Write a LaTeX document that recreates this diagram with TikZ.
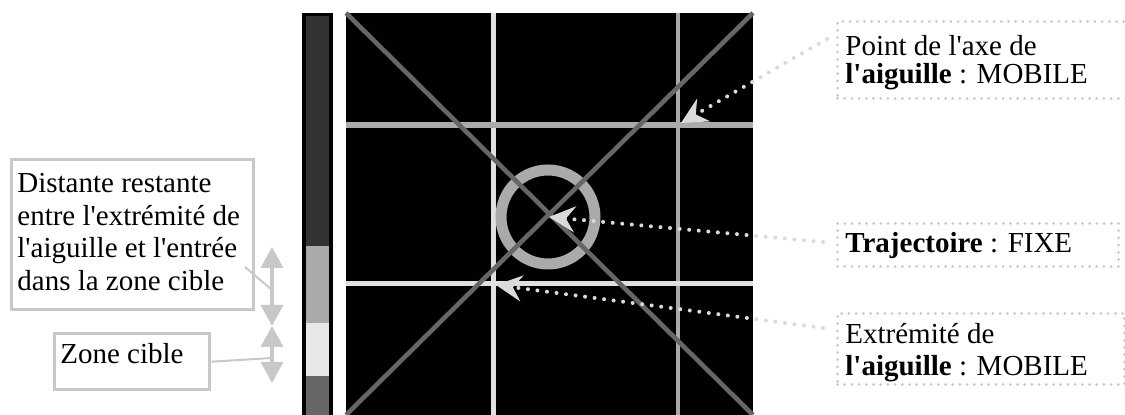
\documentclass[tikz,border=0pt]{standalone}
\usepackage{fontspec}
\newfontfamily\labelfont{Liberation Serif}
\definecolor{bardark}{RGB}{51, 51, 51}
\definecolor{barmid}{RGB}{170, 170, 170}
\definecolor{barlight}{RGB}{232, 232, 232}
\definecolor{barlow}{RGB}{102, 102, 102}
\definecolor{gridlight}{RGB}{224, 224, 224}
\definecolor{diag}{RGB}{102, 102, 102}
\definecolor{framegray}{RGB}{200, 200, 200}
\definecolor{pointergray}{RGB}{218, 218, 218}
\usetikzlibrary{arrows.meta, positioning}

\begin{document}
\begin{tikzpicture}[x=0.5pt, y=-0.5pt,
    legend/.style={font=\labelfont\fontsize{14.5}{16.25}\selectfont, anchor=north west, inner sep=0pt, align=left},
    solidbox/.style={draw=framegray, line width=1.7pt, inner sep=0pt, anchor=north west},
    dotbox/.style={draw=framegray, line width=1.5pt, dash pattern=on 0pt off 3.6pt, line cap=round, inner sep=0pt, anchor=north west},
    pointer/.style={pointergray, line width=2pt, dash pattern=on 0pt off 4.8pt, line cap=round, -{Stealth[length=13pt, width=13pt, inset=4.5pt]}},
    gap/.style={framegray, line width=1.8pt, {Triangle[length=10.5pt, width=11pt]}-{Triangle[length=10.5pt, width=11pt]}}]
    \useasboundingbox (0,0) rectangle (1125,415);

    \fill[black]    (302,13) rectangle (333,420);
    \fill[bardark]  (306,16) rectangle (329,246);
    \fill[barmid]   (306,246) rectangle (329,323);
    \fill[barlight] (306,323) rectangle (329,376);
    \fill[barlow]   (306,376) rectangle (329,420);

    \fill[black] (346,13) rectangle (753,420);
    \draw[gridlight, line width=2.5pt] (493,13) -- (493,415);
    \draw[barmid, line width=2.2pt]    (678,13) -- (678,415);
    \draw[barmid, line width=3pt]      (346,125) -- (753,125);
    \draw[gridlight, line width=2.5pt] (346,284) -- (753,284);
    \draw[barmid, line width=5.5pt] (548,217) circle[radius=47];
    \draw[diag, line width=2.3pt] (346,13) -- (753,415);
    \draw[diag, line width=2.3pt] (753,13) -- (346,415);

    \node[solidbox, minimum width=121pt, minimum height=75pt] (distframe) at (10,158) {};
    \node[legend] (disttext) at (17,173) {Distante restante\\entre l'extrémité de\\l'aiguille et l'entrée\\dans la zone cible};
    \node[solidbox, minimum width=77.5pt, minimum height=28pt] (zoneframe) at (53,332) {};
    \node[legend] (zonetext) at (60,343) {Zone cible};

    \node[dotbox, minimum width=149.5pt, minimum height=38.5pt] (axeframe) at (836,20) {};
    \node[legend, font=\labelfont\fontsize{14.5}{14}\selectfont] (axetext) at (845,35) {Point de l'axe de\\\textbf{l'aiguille} : MOBILE};
    \node[dotbox, minimum width=140.5pt, minimum height=21.5pt] (trajframe) at (836,222) {};
    \node[legend] (trajtext) at (845,232) {\textbf{Trajectoire} : FIXE};
    \node[dotbox, minimum width=143.5pt, minimum height=35.5pt] (extframe) at (836,312) {};
    \node[legend, font=\labelfont\fontsize{14.5}{16}\selectfont] (exttext) at (845,323) {Extrémité de\\\textbf{l'aiguille} : MOBILE};

    \coordinate (gaptop) at (272,247);
    \coordinate (gapmid) at (272,326);
    \coordinate (gapbot) at (272,383);
    \coordinate (distfoot) at (245,267);
    \coordinate (distjoin) at (272,290);
    \coordinate (zonejoin) at (272,358);
    \draw[gap] (gaptop) -- (gapmid);
    \draw[gap] (gapmid) -- (gapbot);
    \draw[framegray, line width=1pt] (distfoot) -- (distjoin);
    \draw[framegray, line width=1pt] (zoneframe.east) -- (zonejoin);

    \coordinate (axetail) at (827,39);
    \coordinate (axetip) at (681,123);
    \coordinate (trajtail) at (823,242);
    \coordinate (trajtip) at (549,217);
    \coordinate (exttail) at (823,328);
    \coordinate (exttip) at (496,285);
    \draw[pointer] (axetail) -- (axetip);
    \draw[pointer] (trajtail) -- (trajtip);
    \draw[pointer] (exttail) -- (exttip);
\end{tikzpicture}
\end{document}
